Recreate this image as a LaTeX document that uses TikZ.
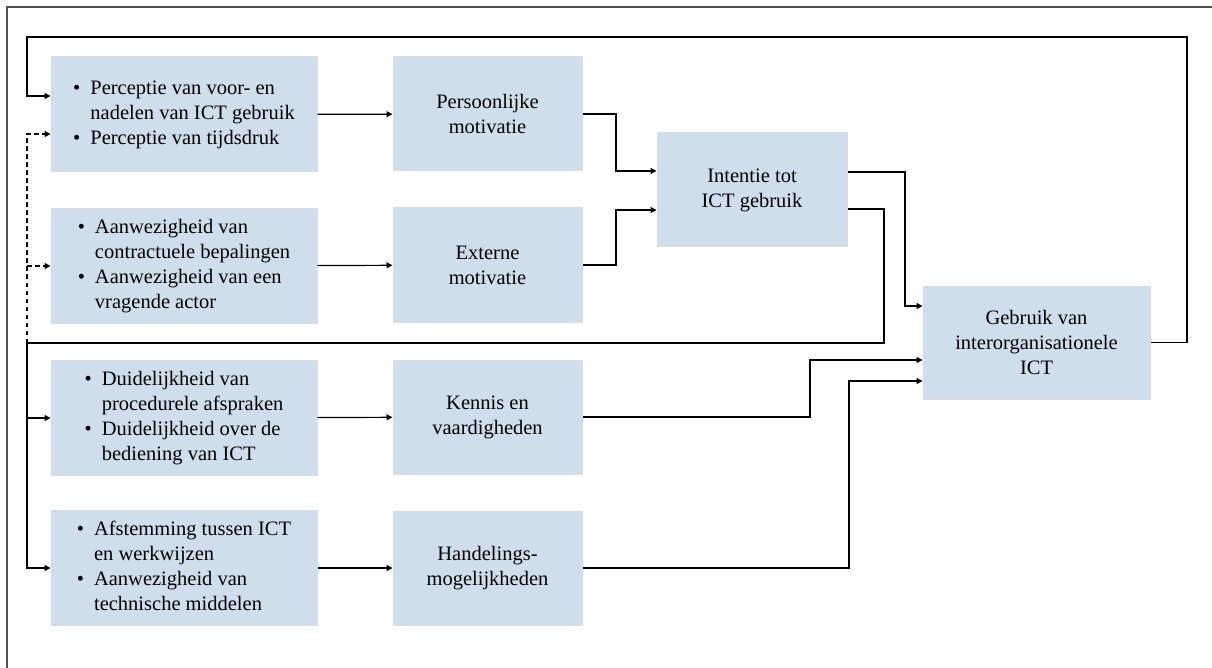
\documentclass[tikz,border=0pt]{standalone}
\usepackage{fontspec}
\setmainfont{Liberation Serif}
\usetikzlibrary{arrows.meta}
\definecolor{boxfill}{RGB}{206,222,236}
\definecolor{boxline}{RGB}{215,218,222}
\definecolor{framecol}{RGB}{80,80,80}
\newcommand{\blist}[1]{\begin{tabular}{@{}l@{\hspace{10pt}}l@{}}#1\end{tabular}}
\tikzset{
  box/.style={draw=boxline, line width=1pt, fill=boxfill, align=center, inner sep=0pt,
    font=\fontsize{20.5}{25}\selectfont},
  abox/.style={box, minimum width=266pt, minimum height=115pt},
  bbox/.style={box, minimum width=189pt, minimum height=114pt},
  conn/.style={line width=1.2pt, black},
  arr/.style={conn, -{Triangle[length=6pt,width=6pt]}},
  darr/.style={arr, dash pattern=on 4.5pt off 3.5pt},
  frame/.style={line width=1.6pt, framecol}
}
\begin{document}
\begin{tikzpicture}[x=1pt,y=-1pt]
\useasboundingbox (0,0) rectangle (1212,668);
\draw[frame] (7,668) -- (7,7) -- (1212,7);

\node[abox] (A1) at (184,114.5) {\blist{\textbullet & Perceptie van voor- en\\ & nadelen van ICT gebruik\\ \textbullet & Perceptie van tijdsdruk}};
\node[abox] (A2) at (184,266) {\blist{\textbullet & Aanwezigheid van\\ & contractuele bepalingen\\ \textbullet & Aanwezigheid van een\\ & vragende actor}};
\node[abox] (A3) at (184,418) {\blist{\textbullet & Duidelijkheid van\\ & procedurele afspraken\\ \textbullet & Duidelijkheid over de\\ & bediening van ICT}};
\node[abox] (A4) at (184,568) {\blist{\textbullet & Afstemming tussen ICT\\ & en werkwijzen\\ \textbullet & Aanwezigheid van\\ & technische middelen}};

\node[bbox] (B1) at (487.5,114) {Persoonlijke\\motivatie};
\node[bbox] (B2) at (487.5,265) {Externe\\motivatie};
\node[bbox] (B3) at (487.5,417) {Kennis en\\vaardigheden};
\node[bbox] (B4) at (487.5,568) {Handelings-\\mogelijkheden};

\node[box, minimum width=190pt, minimum height=114pt] (C) at (752,190) {Intentie tot\\ICT gebruik};
\node[box, minimum width=227pt, minimum height=113pt] (D) at (1036.5,342.5) {Gebruik van\\interorganisationele\\ICT};

\draw[arr] (A1) -- (B1);
\draw[arr] (A2) -- (B2);
\draw[arr] (A3) -- (B3);
\draw[arr] (A4) -- (B4);

\draw[arr] (B1.east) -| (616,171) -- ([yshift=19pt]C.west);
\draw[arr] (B2.east) -| (616,210) -- ([yshift=-20pt]C.west);

\draw[arr] ([yshift=18pt]C.east) -| (905,306) -- ([yshift=36.5pt]D.west);
\draw[arr] (B3.east) -| (810,360) -- ([yshift=-17.5pt]D.west);
\draw[arr] (B4.east) -| (849,381) -- ([yshift=-38.5pt]D.west);

\coordinate (top) at (27,37);
\draw[arr] (D.east) -| (1187,37) -- (top) |- ([yshift=18.5pt]A1.west);

\coordinate (j) at (27,343);
\draw[conn] ([yshift=-19pt]C.east) -| (884,343) -- (j);
\draw[arr] (j) |- (A4.west);
\draw[arr] (j |- A3.west) -- (A3.west);
\draw[darr] (j) |- ([yshift=-19.5pt]A1.west);
\draw[darr] (j |- A2.west) -- (A2.west);
\end{tikzpicture}
\end{document}
